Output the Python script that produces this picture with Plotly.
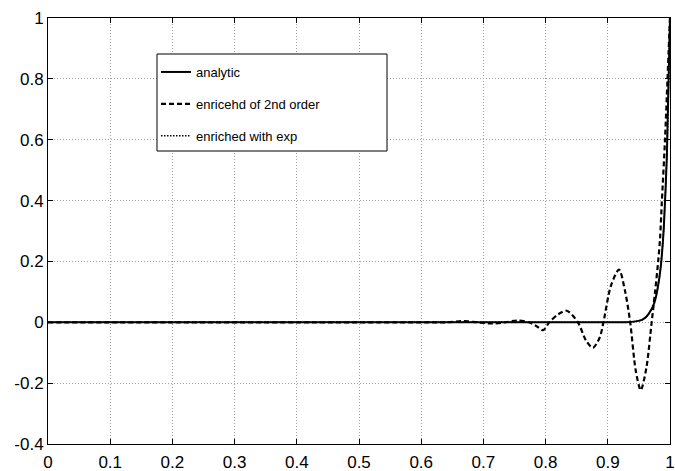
import plotly.graph_objects as go

# ---- data ----
x_analytic = [0, 0.3, 0.6, 0.9, 0.93, 0.945, 0.955, 0.962, 0.97, 0.975, 0.98, 0.985, 0.99, 0.995, 1.0]
y_analytic = [0, 0, 0, 0, 0, 0.003, 0.008, 0.018, 0.042, 0.065, 0.11, 0.18, 0.31, 0.55, 1.0]

x_enr2 = [0, 0.2, 0.4, 0.6, 0.64, 0.668, 0.69, 0.715, 0.735, 0.755, 0.773, 0.785, 0.796,
          0.806, 0.82, 0.834, 0.852, 0.865, 0.876, 0.887, 0.893, 0.905, 0.918, 0.928,
          0.936, 0.945, 0.953, 0.962, 0.9705, 0.976, 0.981, 0.984, 0.987, 0.992, 0.996, 1.0]
y_enr2 = [0, 0, 0, 0, 0, 0.004, 0, -0.004, 0, 0.006, 0, -0.012, -0.026,
          0, 0.026, 0.038, 0, -0.06, -0.084, -0.05, 0, 0.12, 0.173, 0.10,
          0, -0.16, -0.223, -0.15, 0, 0.10, 0.2, 0.275, 0.4, 0.6, 0.8, 1.0]

x_exp = [0, 0.3, 0.6, 0.9, 0.93, 0.945, 0.955, 0.962, 0.97, 0.975, 0.98, 0.985, 0.99, 0.995, 1.0]
y_exp = [0, 0, 0, 0, 0, 0.003, 0.008, 0.018, 0.042, 0.065, 0.11, 0.18, 0.31, 0.55, 1.0]

x_ticks = [0, 0.1, 0.2, 0.3, 0.4, 0.5, 0.6, 0.7, 0.8, 0.9, 1]
x_ticklabels = ["0", "0.1", "0.2", "0.3", "0.4", "0.5", "0.6", "0.7", "0.8", "0.9", "1"]
y_ticks = [-0.4, -0.2, 0, 0.2, 0.4, 0.6, 0.8, 1]
y_ticklabels = ["-0.4", "-0.2", "0", "0.2", "0.4", "0.6", "0.8", "1"]

names = ["analytic", "enricehd of 2nd order", "enriched with exp"]

# ---- figure ----
W, H = 675, 471
ml, mr, mt, mb = 48, 5, 18, 27
pw, ph = W - ml - mr, H - mt - mb

def px2paper(px, py):
    return (px - ml) / pw, (H - mb - py) / ph

fig = go.Figure()
fig.add_trace(go.Scatter(x=x_analytic, y=y_analytic, mode="lines", name=names[0],
                         legendgroup="a", line=dict(color="black", width=2, shape="spline", smoothing=0.6)))
fig.add_trace(go.Scatter(x=x_enr2, y=y_enr2, mode="lines", name=names[1],
                         legendgroup="b", line=dict(color="black", width=2.2, dash="5px,3px", shape="spline", smoothing=0.8)))
fig.add_trace(go.Scatter(x=x_exp, y=y_exp, mode="lines", name=names[2],
                         legendgroup="c", line=dict(color="black", width=1.5, dash="1.5px,1.5px", shape="spline", smoothing=0.6)))

lx0, ly0 = px2paper(157, 54)
lx1, ly1 = px2paper(387, 151)
fig.add_shape(type="rect", xref="paper", yref="paper", x0=lx0, x1=lx1, y0=ly1, y1=ly0,
              line=dict(color="black", width=1), fillcolor="white", layer="above")

axis_common = dict(showline=True, linecolor="black", linewidth=1, mirror="ticks",
                   ticks="inside", ticklen=5, tickcolor="black", tickwidth=1,
                   showgrid=True, gridcolor="#a0a0a0", griddash="1px,2px", gridwidth=1,
                   zeroline=False, tickfont=dict(family="Liberation Sans, Arial", size=17, color="black"))

fig.update_layout(
    width=W, height=H,
    margin=dict(l=ml, r=mr, t=mt, b=mb, autoexpand=False),
    paper_bgcolor="white", plot_bgcolor="white",
    xaxis=dict(range=[0, 1], tickvals=x_ticks, ticktext=x_ticklabels, ticklabelstandoff=3, **axis_common),
    yaxis=dict(range=[-0.4, 1], tickvals=y_ticks, ticktext=y_ticklabels, **axis_common),
    showlegend=True,
    legend=dict(x=lx0 - 1 / pw, y=ly0 - 3 / ph, xanchor="left", yanchor="top",
                bgcolor="rgba(0,0,0,0)", borderwidth=0, itemwidth=30,
                tracegroupgap=12, traceorder="grouped",
                font=dict(family="Liberation Sans, Arial", size=13, color="black")),
)

fig.write_html("out.html", config={"displayModeBar": False},
               post_script="document.body.style.margin='0';document.body.style.overflow='hidden';")
